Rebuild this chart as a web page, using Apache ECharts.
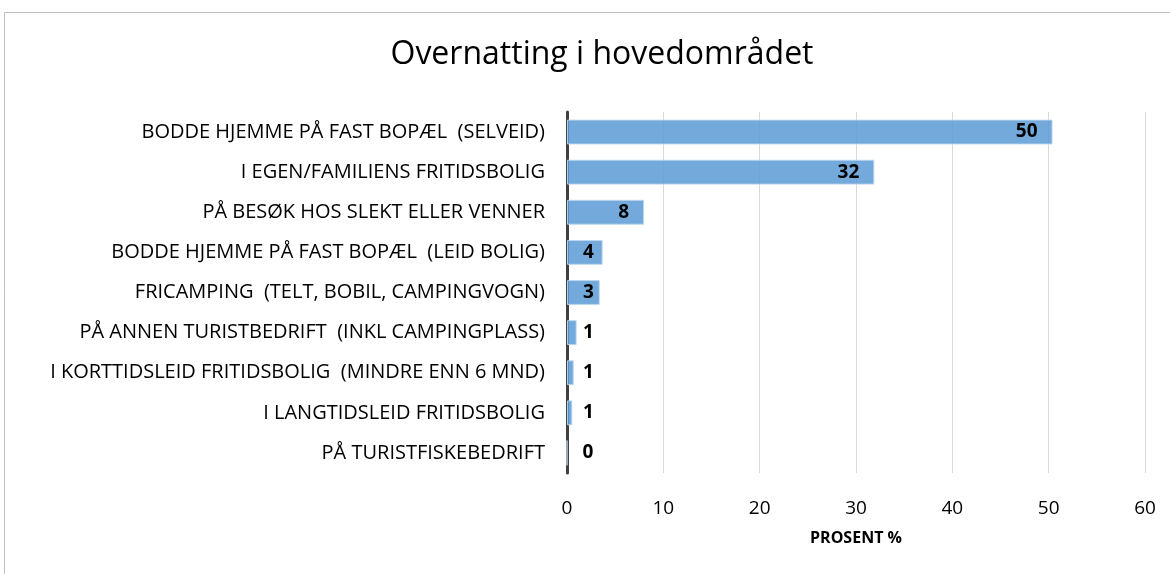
<!DOCTYPE html>
<html>
<head>
    <meta charset="UTF-8">
    <title>Overnatting i hovedområdet</title>
    <script type="text/javascript" src="https://cdn.jsdelivr.net/npm/echarts@6/dist/echarts.min.js"></script>
    <style>
        html, body { margin: 0; padding: 0; background: #fff; }
    </style>
</head>
<body>
    <div id="main" style="width: 1170px;height:574px;"></div>
    <script type="text/javascript">
        // data
        var categories = [
            'BODDE HJEMME PÅ FAST BOPÆL  (SELVEID)',
            'I EGEN/FAMILIENS FRITIDSBOLIG',
            'PÅ BESØK HOS SLEKT ELLER VENNER',
            'BODDE HJEMME PÅ FAST BOPÆL  (LEID BOLIG)',
            'FRICAMPING  (TELT, BOBIL, CAMPINGVOGN)',
            'PÅ ANNEN TURISTBEDRIFT  (INKL CAMPINGPLASS)',
            'I KORTTIDSLEID FRITIDSBOLIG  (MINDRE ENN 6 MND)',
            'I LANGTIDSLEID FRITIDSBOLIG',
            'PÅ TURISTFISKEBEDRIFT'
        ];
        var values = [50.4, 31.9, 8.0, 3.7, 3.4, 1.0, 0.7, 0.55, 0];
        var xTicks = [0, 10, 20, 30, 40, 50, 60];

        var myChart = echarts.init(document.getElementById('main'));

        var fontFam = '"Open Sans", "Noto Sans", sans-serif';

        // big bars get the label inside the end, small ones just right of the axis
        var seriesData = values.map(function (v) {
            return {
                value: v,
                label: v >= 5
                    ? { position: 'insideRight', distance: 15 }
                    : { position: 'insideLeft', distance: 16 }
            };
        });

        var option = {
            backgroundColor: '#fff',
            animation: false,
            title: {
                text: 'Overnatting i hovedområdet',
                left: 597,
                top: 34,
                textAlign: 'center',
                textStyle: {
                    fontFamily: fontFam,
                    fontWeight: 'normal',
                    fontSize: 32,
                    color: '#000'
                }
            },
            grid: {
                left: 567,
                right: 25,
                top: 112,
                bottom: 101
            },
            xAxis: {
                type: 'value',
                min: xTicks[0],
                max: xTicks[xTicks.length - 1],
                interval: 10,
                name: 'PROSENT %',
                nameLocation: 'middle',
                nameGap: 57,
                nameTextStyle: {
                    fontFamily: fontFam,
                    fontWeight: 'bold',
                    fontSize: 16,
                    color: '#000'
                },
                axisLine: { show: false },
                axisTick: { show: false },
                axisLabel: {
                    margin: 26,
                    fontFamily: fontFam,
                    fontSize: 19,
                    color: '#000'
                },
                splitLine: {
                    show: true,
                    lineStyle: { color: '#d9d9d9', width: 1 }
                }
            },
            yAxis: {
                type: 'category',
                inverse: true,
                data: categories,
                axisLine: {
                    show: true,
                    lineStyle: { color: '#404040', width: 3 }
                },
                axisTick: { show: false },
                axisLabel: {
                    margin: 22,
                    fontFamily: fontFam,
                    fontSize: 20,
                    color: '#000'
                }
            },
            series: [
                {
                    type: 'bar',
                    data: seriesData,
                    barCategoryGap: '38%',
                    itemStyle: {
                        color: 'rgba(91, 155, 213, 0.85)',
                        borderColor: 'rgba(189, 215, 238, 0.9)',
                        borderWidth: 1
                    },
                    label: {
                        show: true,
                        fontFamily: fontFam,
                        fontWeight: 'bold',
                        fontSize: 19,
                        color: '#000',
                        formatter: function (p) {
                            return Math.round(p.value);
                        }
                    }
                }
            ],
            graphic: [
                {
                    type: 'polyline',
                    shape: { points: [[4.5, 574], [4.5, 12.5], [1170, 12.5]] },
                    style: { stroke: '#bfbfbf', lineWidth: 1, fill: null }
                }
            ]
        };

        myChart.setOption(option);
    </script>
</body>
</html>
